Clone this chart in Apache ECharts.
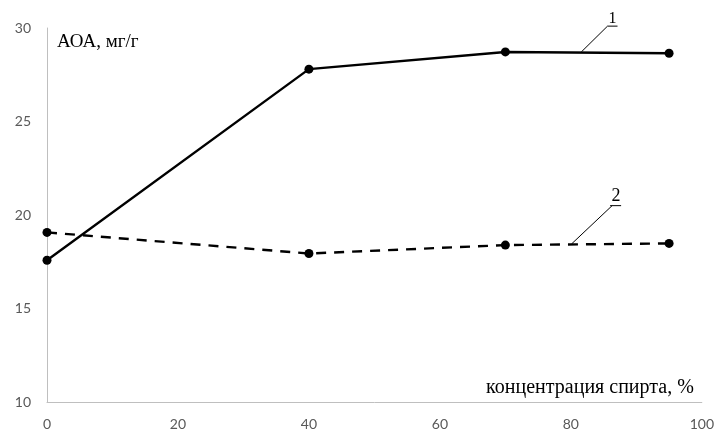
<!DOCTYPE html>
<html><head><meta charset="utf-8">
<script src="https://cdn.jsdelivr.net/npm/echarts@6/dist/echarts.min.js"></script>
<style>html,body{margin:0;padding:0;background:#fff}#c{width:717px;height:432px}</style>
</head><body><div id="c"></div>
<script>
var xValues = [0, 40, 70, 95];
var series1 = [17.58, 27.8, 28.72, 28.65];
var series2 = [19.07, 17.94, 18.39, 18.48];
var xTicks = [0, 20, 40, 60, 80, 100];
var yTicks = [10, 15, 20, 25, 30];
var yTitle = 'АОА, мг/г';
var xTitle = 'концентрация спирта, %';
var labels = ['1', '2'];
// leader lines in data coordinates: [from, to]
var leader1 = [[81.6, 28.72], [85.6, 30.1]];
var leader2 = [[80.1, 18.45], [86.3, 20.5]];

var chart = echarts.init(document.getElementById('c'), null, {renderer: 'canvas'});
var tickFont = {color: '#595959', fontSize: 14, fontFamily: 'Lato, "Open Sans", sans-serif'};
var serif = '"Liberation Serif", "DejaVu Serif", serif';

function pts(arr) { return xValues.map(function (x, i) { return [x, arr[i]]; }); }

chart.setOption({
  animation: false,
  grid: {left: 47, right: 15, top: 28, bottom: 30, containLabel: false},
  xAxis: {
    type: 'value', min: 0, max: 100, interval: 20,
    axisLine: {show: true, lineStyle: {color: '#bfbfbf', width: 1}},
    axisTick: {show: false},
    splitLine: {show: false},
    axisLabel: Object.assign({margin: 15}, tickFont)
  },
  yAxis: {
    type: 'value', min: 10, max: 30, interval: 5,
    axisLine: {show: true, lineStyle: {color: '#bfbfbf', width: 1}},
    axisTick: {show: false},
    splitLine: {show: false},
    axisLabel: Object.assign({margin: 16}, tickFont)
  },
  series: [
    {
      type: 'line', data: pts(series1), symbol: 'circle', symbolSize: 9,
      itemStyle: {color: '#000'}, lineStyle: {color: '#000', width: 2.4},
      clip: false, z: 3
    },
    {
      type: 'line', data: pts(series2), symbol: 'circle', symbolSize: 9,
      itemStyle: {color: '#000'}, lineStyle: {color: '#000', width: 2.4, type: [10, 8]},
      clip: false, z: 3
    },
    {
      type: 'line', data: leader1, symbol: 'none', silent: true, clip: false,
      lineStyle: {color: '#000', width: 1}
    },
    {
      type: 'line', data: leader2, symbol: 'none', silent: true, clip: false,
      lineStyle: {color: '#000', width: 1}
    }
  ]
});

function px(p) { return chart.convertToPixel({gridIndex: 0}, p); }
var a1 = px(leader1[1]), a2 = px(leader2[1]);
var yt = px([0, 30]), xt = px([100, 10]);
chart.setOption({
  graphic: [
    {type: 'text', x: yt[0] + 10, y: yt[1] + 14,
      style: {text: yTitle, font: '19px ' + serif, fill: '#000', align: 'left', verticalAlign: 'middle'}},
    {type: 'text', x: xt[0] - 8, y: xt[1] - 14,
      style: {text: xTitle, font: '20px ' + serif, fill: '#000', align: 'right', verticalAlign: 'middle'}},
    {type: 'text', x: a1[0] + 5, y: a1[1] - 7,
      style: {text: labels[0], font: '16px ' + serif, fill: '#000', align: 'center', verticalAlign: 'middle'}},
    {type: 'line', shape: {x1: a1[0], y1: a1[1], x2: a1[0] + 10, y2: a1[1]}, style: {stroke: '#000', lineWidth: 1}},
    {type: 'text', x: a2[0] + 4, y: a2[1] - 9,
      style: {text: labels[1], font: '18px ' + serif, fill: '#000', align: 'center', verticalAlign: 'middle'}},
    {type: 'line', shape: {x1: a2[0] - 2, y1: a2[1], x2: a2[0] + 9, y2: a2[1]}, style: {stroke: '#000', lineWidth: 1}}
  ]
});
</script></body></html>
